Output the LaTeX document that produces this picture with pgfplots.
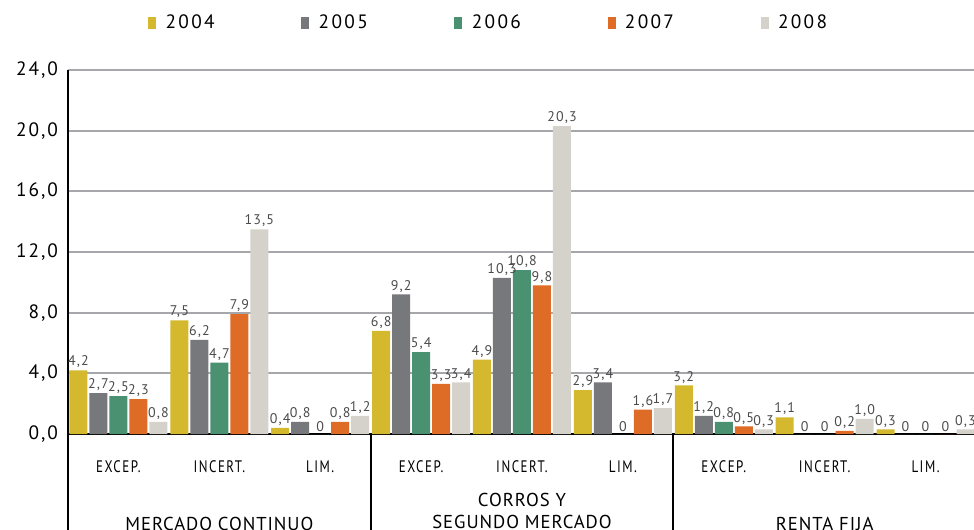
\documentclass[border=0pt]{standalone}
\usepackage{fontspec}
\setmainfont{PT Sans}
\newfontfamily\tickfont[LetterSpace=10]{PT Sans}
\newfontfamily\legfont[LetterSpace=12]{PT Sans}
\newfontfamily\valfont[LetterSpace=8]{PT Sans}
\newfontfamily\catfont[FakeStretch=0.78,LetterSpace=9]{PT Sans}
\newfontfamily\grpfont[LetterSpace=5]{PT Sans}
\usepackage{pgfplots}
\pgfplotsset{compat=1.18}
\definecolor{c04}{RGB}{212,185,47}
\definecolor{c05}{RGB}{119,120,124}
\definecolor{c06}{RGB}{74,145,114}
\definecolor{c07}{RGB}{222,108,39}
\definecolor{c08}{RGB}{213,210,203}
\definecolor{gridgray}{RGB}{165,167,170}
\definecolor{valgray}{RGB}{75,75,75}
\tikzset{cat/.style={anchor=base, font=\catfont\fontsize{12.5}{14}\selectfont, inner sep=0pt},
  grp/.style={anchor=base, font=\grpfont\fontsize{14}{16}\selectfont, inner sep=0pt}}
\begin{document}
\begin{tikzpicture}
\useasboundingbox (0,0) rectangle (730.5pt,396.75pt);
\begin{axis}[
  at={(51pt,71.25pt)}, anchor=south west,
  scale only axis, width=681pt, height=273pt,
  xmin=0, xmax=9, ymin=0, ymax=24,
  axis x line*=bottom, axis y line*=left,
  axis line style={-, black, line width=2pt},
  xtick=\empty,
  ytick={0,4,8,12,16,20,24},
  yticklabel style={font=\tickfont\fontsize{14.5}{17}\selectfont, xshift=-4pt,
    /pgf/number format/fixed,
    /pgf/number format/fixed zerofill,
    /pgf/number format/precision=1,
    /pgf/number format/use comma,
    /pgf/number format/assume math mode=true},
  major tick length=0pt,
  ymajorgrids, grid style={line width=1.6pt, color=gridgray},
  ybar=1.5pt, bar width=13.5pt,
  clip=false,
  nodes near coords, point meta=explicit symbolic,
  every node near coord/.append style={font=\valfont\fontsize{10.5}{12}\selectfont, color=valgray, inner sep=1.5pt},
  legend columns=5,
  legend style={at={(0.0881,1.13)}, anchor=west, draw=none, fill=none, inner sep=0pt,
    font=\legfont\fontsize{14.5}{17}\selectfont,
    /tikz/every odd column/.append style={column sep=5pt},
    /tikz/every even column/.append style={column sep=63pt}},
  legend cell align=left,
  legend image code/.code={\fill[#1] (0pt,-4.5pt) rectangle (6pt,4.5pt);},
]
\addplot[fill=c04, draw=none] coordinates {(0.5,4.2)[4,2] (1.5,7.5)[7,5] (2.5,0.4)[0,4] (3.5,6.8)[6,8] (4.5,4.9)[4,9] (5.5,2.9)[2,9] (6.5,3.2)[3,2] (7.5,1.1)[1,1] (8.5,0.3)[0,3]};
\addplot[fill=c05, draw=none] coordinates {(0.5,2.7)[2,7] (1.5,6.2)[6,2] (2.5,0.8)[0,8] (3.5,9.2)[9,2] (4.5,10.3)[10,3] (5.5,3.4)[3,4] (6.5,1.2)[1,2] (7.5,0)[0] (8.5,0)[0]};
\addplot[fill=c06, draw=none] coordinates {(0.5,2.5)[2,5] (1.5,4.7)[4,7] (2.5,0)[0] (3.5,5.4)[5,4] (4.5,10.8)[10,8] (5.5,0)[0] (6.5,0.8)[0,8] (7.5,0)[0] (8.5,0)[0]};
\addplot[fill=c07, draw=none] coordinates {(0.5,2.3)[2,3] (1.5,7.9)[7,9] (2.5,0.8)[0,8] (3.5,3.3)[3,3] (4.5,9.8)[9,8] (5.5,1.6)[1,6] (6.5,0.5)[0,5] (7.5,0.2)[0,2] (8.5,0)[0]};
\addplot[fill=c08, draw=none] coordinates {(0.5,0.8)[0,8] (1.5,13.5)[13,5] (2.5,1.2)[1,2] (3.5,3.4)[3,4] (4.5,20.3)[20,3] (5.5,1.7)[1,7] (6.5,0.3)[0,3] (7.5,1.0)[1,0] (8.5,0.3)[0,3]};
\legend{2004,2005,2006,2007,2008}
\draw[black, line width=1.5pt] (axis cs:0,0) -- (axis cs:0,-8);
\draw[black, line width=1.5pt] (axis cs:3,0) -- (axis cs:3,-8);
\draw[black, line width=1.5pt] (axis cs:6,0) -- (axis cs:6,-8);
\draw[black, line width=1.5pt] (axis cs:9,0) -- (axis cs:9,-8);
\node[cat] at (axis cs:0.5,-2.57) {EXCEP.};
\node[cat] at (axis cs:1.5,-2.57) {INCERT.};
\node[cat] at (axis cs:2.5,-2.57) {LIM.};
\node[cat] at (axis cs:3.5,-2.57) {EXCEP.};
\node[cat] at (axis cs:4.5,-2.57) {INCERT.};
\node[cat] at (axis cs:5.5,-2.57) {LIM.};
\node[cat] at (axis cs:6.5,-2.57) {EXCEP.};
\node[cat] at (axis cs:7.5,-2.57) {INCERT.};
\node[cat] at (axis cs:8.5,-2.57) {LIM.};
\node[grp] at (axis cs:1.5,-6.33) {MERCADO CONTINUO};
\node[grp] at (axis cs:4.5,-4.81) {CORROS Y};
\node[grp] at (axis cs:4.5,-6.20) {SEGUNDO MERCADO};
\node[grp] at (axis cs:7.5,-6.33) {RENTA FIJA};
\end{axis}
\end{tikzpicture}
\end{document}
